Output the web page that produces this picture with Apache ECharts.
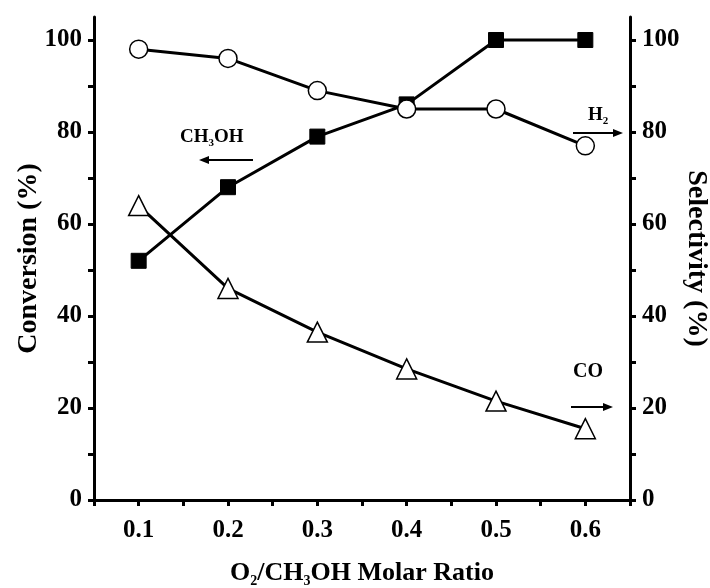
<!DOCTYPE html>
<html>
<head>
<meta charset="utf-8">
<script src="https://cdn.jsdelivr.net/npm/echarts@6/dist/echarts.min.js"></script>
<style>
  html, body { margin: 0; padding: 0; background: #fff; }
  #chart { width: 710px; height: 588px; }
</style>
</head>
<body>
<div id="chart"></div>
<script>
// O2/CH3OH molar ratio
var ratios = [0.1, 0.2, 0.3, 0.4, 0.5, 0.6];
// CH3OH conversion (%), left axis
var ch3ohConversion = [52, 68, 79, 86, 100, 100];
// H2 selectivity (%), right axis
var h2Selectivity = [98, 96, 89, 85, 85, 77];
// CO selectivity (%), right axis
var coSelectivity = [64, 46, 36.5, 28.5, 21.5, 15.5];

var xTicks = [0.05, 0.1, 0.15, 0.2, 0.25, 0.3, 0.35, 0.4, 0.45, 0.5, 0.55, 0.6, 0.65];
var xLabels = [0.1, 0.2, 0.3, 0.4, 0.5, 0.6];
var yTicks = [0, 10, 20, 30, 40, 50, 60, 70, 80, 90, 100];
var yLabels = [0, 20, 40, 60, 80, 100];

var FONT = 'Liberation Serif';

function pairs (ys) {
  return ratios.map(function (x, i) { return [x, ys[i]]; });
}

var myChart = echarts.init(document.getElementById('chart'));

var axisLine = { show: true, lineStyle: { color: '#000', width: 3 } };
var labelStyle = { color: '#000', fontFamily: FONT, fontWeight: 'bold', fontSize: 25 };
var nameStyle = { color: '#000', fontFamily: FONT, fontWeight: 'bold', fontSize: 28 };

function yAxisOf (pos, name, gap, rotate) {
  return {
    type: 'value',
    position: pos,
    min: 0,
    max: 105,
    name: name,
    nameLocation: 'middle',
    nameGap: gap,
    nameRotate: rotate,
    nameMoveOverlap: false,
    nameTextStyle: nameStyle,
    axisLine: axisLine,
    axisTick: { show: true, inside: false, length: 6, lineStyle: { color: '#000', width: 3 }, customValues: yTicks },
    axisLabel: Object.assign({ margin: 12, customValues: yLabels }, labelStyle),
    splitLine: { show: false }
  };
}

var option = {
  animation: false,
  backgroundColor: '#fff',
  grid: { left: 94, right: 80, top: 17, bottom: 88, containLabel: false, outerBoundsMode: 'none' },
  xAxis: [
    {
      type: 'value',
      min: 0.05,
      max: 0.65,
      name: '{t|O}{s|2}{t|/CH}{s|3}{t|OH Molar Ratio}',
      nameLocation: 'middle',
      nameGap: 58,
      nameTextStyle: {
        rich: {
          t: { fontFamily: FONT, fontWeight: 'bold', fontSize: 26, color: '#000' },
          s: { fontFamily: FONT, fontWeight: 'bold', fontSize: 14, color: '#000', padding: [16, 0, 0, 0] }
        }
      },
      axisLine: axisLine,
      axisTick: { show: true, length: 6, lineStyle: { color: '#000', width: 3 }, customValues: xTicks },
      axisLabel: Object.assign({
        margin: 18,
        customValues: xLabels,
        formatter: function (v) { return v.toFixed(1); }
      }, labelStyle),
      splitLine: { show: false }
    },
    {
      type: 'value',
      position: 'top',
      min: 0.05,
      max: 0.65,
      axisLine: axisLine,
      axisTick: { show: false },
      axisLabel: { show: false },
      splitLine: { show: false }
    }
  ],
  yAxis: [
    yAxisOf('left', 'Conversion (%)', 51, 90),
    yAxisOf('right', 'Selectivity (%)', 52, -90)
  ],
  series: [
    {
      name: 'CH3OH',
      type: 'line',
      yAxisIndex: 0,
      data: pairs(ch3ohConversion),
      symbol: 'rect',
      symbolSize: 15,
      lineStyle: { color: '#000', width: 3 },
      itemStyle: { color: '#000', borderColor: '#000', borderWidth: 1 }
    },
    {
      name: 'H2',
      type: 'line',
      yAxisIndex: 1,
      data: pairs(h2Selectivity),
      symbol: 'circle',
      symbolSize: 18,
      lineStyle: { color: '#000', width: 3 },
      itemStyle: { color: '#fff', borderColor: '#000', borderWidth: 1.5 }
    },
    {
      name: 'CO',
      type: 'line',
      yAxisIndex: 1,
      data: pairs(coSelectivity),
      symbol: 'triangle',
      symbolSize: 20,
      lineStyle: { color: '#000', width: 3 },
      itemStyle: { color: '#fff', borderColor: '#000', borderWidth: 1.5 }
    }
  ],
  graphic: [
    {
      type: 'text', left: 180, top: 128,
      style: {
        text: '{t|CH}{s|3}{t|OH}',
        rich: {
          t: { fontFamily: FONT, fontWeight: 'bold', fontSize: 19, fill: '#000' },
          s: { fontFamily: FONT, fontWeight: 'bold', fontSize: 11, fill: '#000', padding: [11, 0, 0, 0] }
        }
      }
    },
    {
      type: 'line', shape: { x1: 203, y1: 160, x2: 253, y2: 160 },
      style: { stroke: '#000', lineWidth: 2 }
    },
    {
      type: 'polygon', shape: { points: [[199, 160], [209, 156], [209, 164]] },
      style: { fill: '#000' }
    },
    {
      type: 'text', left: 588, top: 106,
      style: {
        text: '{t|H}{s|2}',
        rich: {
          t: { fontFamily: FONT, fontWeight: 'bold', fontSize: 19, fill: '#000' },
          s: { fontFamily: FONT, fontWeight: 'bold', fontSize: 11, fill: '#000', padding: [11, 0, 0, 0] }
        }
      }
    },
    {
      type: 'line', shape: { x1: 573, y1: 133, x2: 618, y2: 133 },
      style: { stroke: '#000', lineWidth: 2 }
    },
    {
      type: 'polygon', shape: { points: [[623, 133], [613, 129], [613, 137]] },
      style: { fill: '#000' }
    },
    {
      type: 'text', left: 573, top: 362,
      style: { text: 'CO', fontFamily: FONT, fontWeight: 'bold', fontSize: 20, fill: '#000' }
    },
    {
      type: 'line', shape: { x1: 571, y1: 407, x2: 608, y2: 407 },
      style: { stroke: '#000', lineWidth: 2 }
    },
    {
      type: 'polygon', shape: { points: [[613, 407], [603, 403], [603, 411]] },
      style: { fill: '#000' }
    }
  ]
};

myChart.setOption(option);
</script>
</body>
</html>
